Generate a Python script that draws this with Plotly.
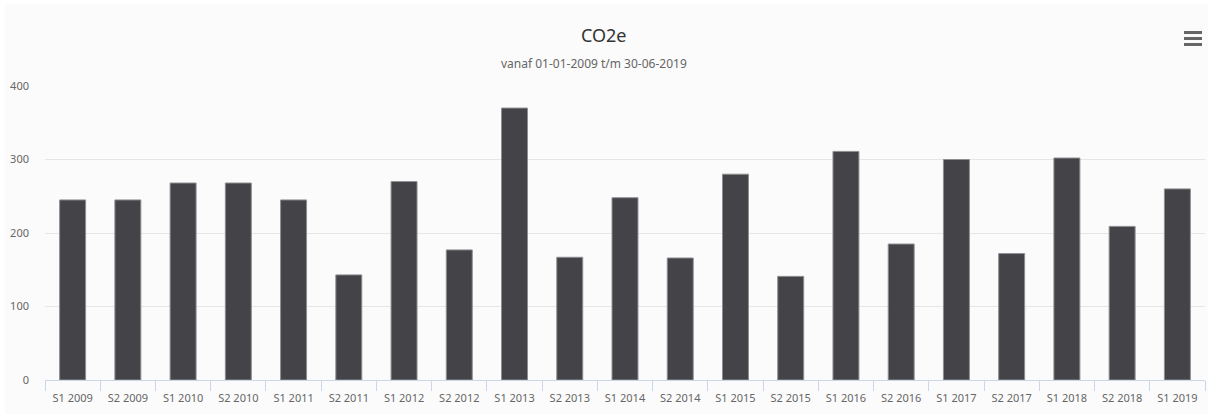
import plotly.graph_objects as go

categories = ["S1 2009", "S2 2009", "S1 2010", "S2 2010", "S1 2011", "S2 2011",
              "S1 2012", "S2 2012", "S1 2013", "S2 2013", "S1 2014", "S2 2014",
              "S1 2015", "S2 2015", "S1 2016", "S2 2016", "S1 2017", "S2 2017",
              "S1 2018", "S2 2018", "S1 2019"]
co2e = [245, 245, 268, 268, 245, 143, 270, 177, 370, 167, 248, 166,
        280, 141, 311, 185, 300, 172, 302, 209, 260]
y_ticks = [0, 100, 200, 300, 400]

W, H = 1208, 414
L, R, T, B = 45, 3, 86, 34
pw, ph = W - L - R, H - T - B

def px(x):
    return (x - L) / pw

def py(y):
    return (H - B - y) / ph

FONT = "Noto Sans"
BG = "#fbfbfb"

fig = go.Figure(go.Bar(
    x=categories, y=co2e,
    marker=dict(color="#434348", line=dict(color="#8e8e92", width=1)),
    width=0.47,
    hoverinfo="x+y",
))

shapes = [dict(type="rect", xref="paper", yref="paper", layer="below",
               x0=px(5), x1=px(W), y0=py(4), y1=py(H),
               fillcolor=BG, line=dict(width=0))]
for yy in (32.5, 38.5, 44.5):
    shapes.append(dict(type="line", xref="paper", yref="paper",
                       x0=px(1184), x1=px(1202), y0=py(yy), y1=py(yy),
                       line=dict(color="#666666", width=3)))

fig.update_layout(
    width=W, height=H,
    margin=dict(l=L, r=R, t=T, b=B),
    paper_bgcolor="#ffffff",
    plot_bgcolor=BG,
    font=dict(family=FONT, color="#666666", size=11),
    showlegend=False,
    shapes=shapes,
    annotations=[
        dict(text="CO2e", xref="paper", yref="paper", x=px(604), y=py(35),
             showarrow=False, font=dict(size=18, color="#333333", family=FONT),
             xanchor="center", yanchor="middle"),
        dict(text="vanaf 01-01-2009 t/m 30-06-2019", xref="paper", yref="paper",
             x=px(594), y=py(63), showarrow=False,
             font=dict(size=12, color="#666666", family=FONT),
             xanchor="center", yanchor="middle"),
    ],
    xaxis=dict(
        type="category",
        tickson="boundaries",
        ticks="outside", ticklen=10, tickcolor="#ccd6eb", tickwidth=1,
        showline=True, linecolor="#ccd6eb", linewidth=1,
        showgrid=False,
        ticklabelstandoff=8,
        tickfont=dict(size=11, color="#666666"),
        fixedrange=True,
    ),
    yaxis=dict(
        range=[0, 400],
        tickvals=y_ticks,
        showgrid=True, gridcolor="#e6e6e6", gridwidth=1,
        zeroline=False,
        showline=False,
        ticks="",
        ticklabelstandoff=15,
        tickfont=dict(size=11, color="#666666"),
        fixedrange=True,
    ),
    bargap=0.53,
)

fig.write_html(
    "out.html",
    config={"displayModeBar": False},
    post_script="document.body.style.margin='0';document.body.style.overflow='hidden';",
)
